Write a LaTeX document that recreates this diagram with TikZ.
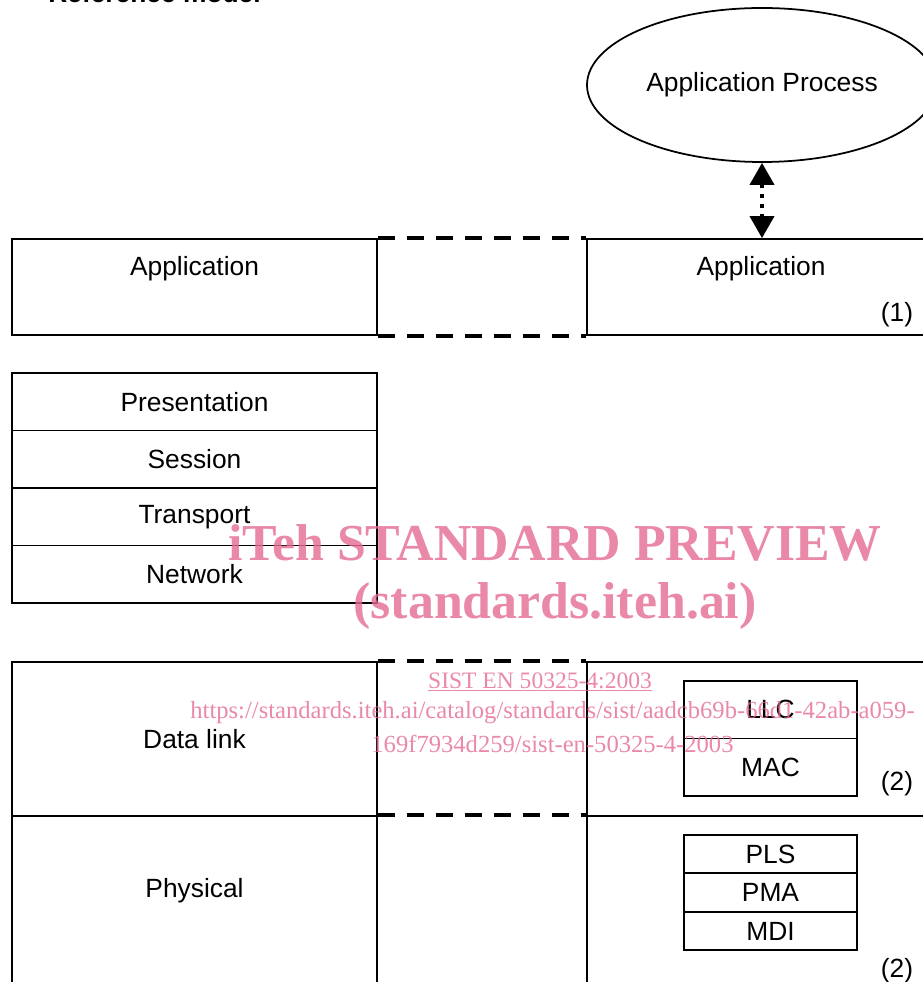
\documentclass[tikz,border=0pt]{standalone}
\usepackage{fontspec}
\setmainfont{Liberation Sans}
\newfontfamily\wmfont{Liberation Serif}
\usetikzlibrary{arrows.meta,positioning,shapes.geometric}
\definecolor{wmark}{RGB}{228,108,145}

\begin{document}
\begin{tikzpicture}[
  font=\fontsize{15}{18}\selectfont,
  layer/.style={
    rectangle, draw=black, line width=1pt,
    minimum width=7.3cm, inner sep=0pt
  },
  peer/.style={
    rectangle, draw=black, line width=1pt,
    minimum width=7.06cm, inner sep=0pt
  },
  sub/.style={
    rectangle, draw=black, line width=1pt,
    minimum width=3.46cm, inner sep=0pt
  },
  txt/.style={inner sep=0pt},
  link/.style={line width=2.2pt, dash pattern=on 10pt off 6.5pt},
  dotlink/.style={
    {Triangle[length=0.44cm,width=0.48cm]}-{Triangle[length=0.44cm,width=0.48cm]},
    line width=2.2pt, dash pattern=on 2.2pt off 3.6pt
  },
  wm/.style={wmark, opacity=0.8, inner sep=0pt, anchor=base}
]
\useasboundingbox (0,0) rectangle (18.44,-19.64);

%% ── Heading (runs off the top edge) ─────────────────────────────────
\node[txt, anchor=base west, font=\fontsize{15}{18}\selectfont\bfseries]
  (title) at (0.96,-0.05) {Reference model};

%% ── Left stack (x=3.89) ─────────────────────────────────────────────
\node[layer, minimum height=1.92cm] (appL) at (3.89,-5.74) {};
\node[txt] (appLt) at (3.89,-5.37) {Application};

\foreach \name/\txt [count=\i from 0] in {pres/Presentation, sess/Session,
                                          trans/Transport, net/Network}
  \node[layer, minimum height=1.15cm] (\name) at (3.89,{-8.035-1.15*\i}) {\txt};

\node[layer, minimum height=3.08cm] (dlL) at (3.89,-14.78) {Data link};
\node[layer, minimum height=3.58cm] (phL) at (3.89,-18.11) {};
\node[txt] (phLt) at (3.89,-17.81) {Physical};

%% ── Right stack (x=15.27), cut by the right edge ────────────────────
\node[ellipse, draw=black, line width=1pt, minimum width=7cm,
      minimum height=3.08cm, inner sep=0pt] (proc) at (15.24,-1.70)
  {Application Process};

\node[peer, minimum height=1.92cm] (appR) at (15.27,-5.74) {};
\node[txt] (appRt) at (15.22,-5.37) {Application};
\node[txt] (noteA) at (17.94,-6.30) {(1)};

\node[peer, minimum height=3.08cm] (dlR) at (15.27,-14.78) {};
\node[sub, minimum height=1.15cm] (llc) at (15.41,-14.195) {LLC};
\node[sub, minimum height=1.15cm] (mac) at (15.41,-15.345) {MAC};
\node[txt] (noteB) at (17.94,-15.67) {(2)};

\node[peer, minimum height=3.58cm] (phR) at (15.27,-18.11) {};
\foreach \name/\txt [count=\i from 0] in {pls/PLS, pma/PMA, mdi/MDI}
  \node[sub, minimum height=0.77cm] (\name) at (15.41,{-17.08-0.77*\i}) {\txt};
\node[txt] (noteC) at (17.94,-19.41) {(2)};

%% process <-> application entity
\draw[dotlink] (proc.south) -- (proc.south |- appR.north);

%% ── Peer links between the stacks ───────────────────────────────────
\draw[link] (appL.north east) -- (appR.north west);
\draw[link] (appL.south east) -- (appR.south west);
\draw[link] (dlL.north east)  -- (dlR.north west);
\draw[link] (phL.north east)  -- (phR.north west);

%% ── Preview stamp ───────────────────────────────────────────────────
\node[wm, font=\wmfont\fontsize{29.5}{31}\selectfont\bfseries]
  (stampA) at (11.1,-11.2) {iTeh STANDARD PREVIEW};
\node[wm, font=\wmfont\fontsize{29.5}{31}\selectfont\bfseries]
  (stampB) at (11.1,-12.36) {(standards.iteh.ai)};
\node[wm, font=\wmfont\fontsize{13.4}{15}\selectfont]
  (stampC) at (10.8,-13.76) {\underline{SIST EN 50325-4:2003}};
\node[wm, font=\wmfont\fontsize{14}{16}\selectfont]
  (stampD) at (11.05,-14.36)
  {https://standards.iteh.ai/catalog/standards/sist/aadcb69b-66d1-42ab-a059-};
\node[wm, font=\wmfont\fontsize{14}{16}\selectfont]
  (stampE) at (11.05,-15.04) {169f7934d259/sist-en-50325-4-2003};

\end{tikzpicture}
\end{document}
